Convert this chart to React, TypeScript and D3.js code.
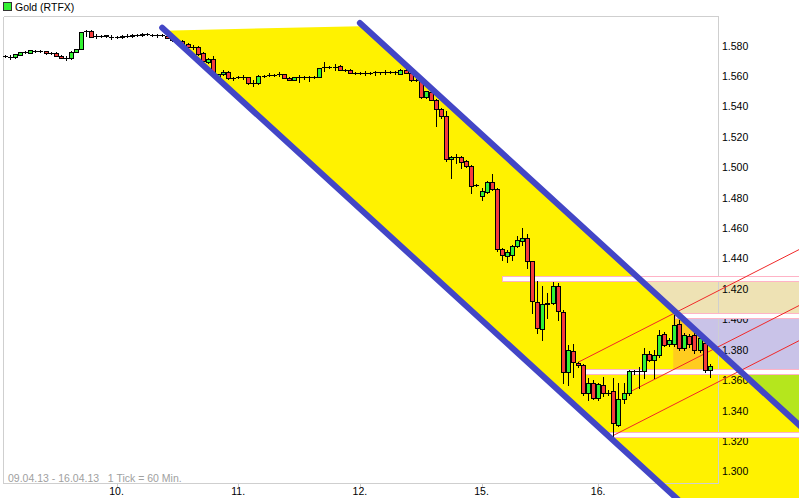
import React from "react";
import * as d3 from "d3";

// Hourly OHLC, 09.04.13 - 16.04.13
const open = [1.5734,1.5728,1.5723,1.5741,1.5759,1.5754,1.5767,1.5763,1.5763,1.5754,1.5752,1.5734,1.5719,1.5719,1.5759,1.5778,1.5899,1.5899,1.5861,1.5861,1.5870,1.5857,1.5855,1.5855,1.5866,1.5861,1.5870,1.5868,1.5874,1.5870,1.5868,1.5870,1.5866,1.5853,1.5836,1.5830,1.5813,1.5790,1.5791,1.5752,1.5690,1.5713,1.5594,1.5616,1.5627,1.5588,1.5594,1.5592,1.5592,1.5555,1.5555,1.5603,1.5609,1.5609,1.5614,1.5614,1.5588,1.5574,1.5592,1.5592,1.5592,1.5592,1.5594,1.5657,1.5660,1.5657,1.5669,1.5640,1.5642,1.5621,1.5621,1.5622,1.5622,1.5624,1.5624,1.5627,1.5624,1.5624,1.5616,1.5640,1.5620,1.5572,1.5572,1.5463,1.5496,1.5445,1.5384,1.5340,1.5055,1.5066,1.5068,1.5044,1.5011,1.4884,1.4809,1.4838,1.4904,1.4858,1.4463,1.4415,1.4426,1.4480,1.4518,1.4536,1.4382,1.4112,1.3937,1.4104,1.4108,1.4222,1.4049,1.3655,1.3795,1.3716,1.3703,1.3517,1.3582,1.3484,1.3571,1.3520,1.3532,1.3308,1.3477,1.3520,1.3659,1.3659,1.3659,1.3773,1.3735,1.3768,1.3906,1.3841,1.3841,1.3972,1.3814,1.3893,1.3900,1.3801,1.3847,1.3670];
const high = [1.5741,1.5738,1.5747,1.5757,1.5764,1.5774,1.5774,1.5770,1.5767,1.5761,1.5757,1.5738,1.5734,1.5764,1.5780,1.5892,1.5905,1.5902,1.5879,1.5869,1.5872,1.5872,1.5862,1.5869,1.5877,1.5876,1.5879,1.5882,1.5882,1.5879,1.5876,1.5879,1.5869,1.5859,1.5839,1.5836,1.5820,1.5806,1.5800,1.5757,1.5718,1.5731,1.5616,1.5642,1.5636,1.5596,1.5603,1.5609,1.5596,1.5576,1.5606,1.5609,1.5619,1.5616,1.5627,1.5616,1.5593,1.5596,1.5609,1.5600,1.5603,1.5600,1.5655,1.5690,1.5668,1.5680,1.5675,1.5649,1.5645,1.5629,1.5626,1.5632,1.5629,1.5636,1.5629,1.5639,1.5632,1.5636,1.5649,1.5645,1.5626,1.5580,1.5576,1.5503,1.5504,1.5448,1.5392,1.5368,1.5073,1.5088,1.5073,1.5050,1.5018,1.4889,1.4864,1.4909,1.4958,1.4863,1.4469,1.4459,1.4488,1.4551,1.4601,1.4564,1.4386,1.4250,1.4217,1.4174,1.4244,1.4240,1.4064,1.3834,1.3841,1.3722,1.3706,1.3617,1.3604,1.3581,1.3620,1.3538,1.3615,1.3582,1.3584,1.3670,1.3666,1.3689,1.3810,1.3795,1.3801,1.3933,1.3920,1.3880,1.4031,1.3998,1.3913,1.3906,1.3913,1.3893,1.3867,1.3709];
const low = [1.5728,1.5715,1.5721,1.5738,1.5751,1.5751,1.5761,1.5757,1.5747,1.5747,1.5731,1.5718,1.5708,1.5715,1.5757,1.5777,1.5861,1.5855,1.5851,1.5856,1.5859,1.5846,1.5849,1.5853,1.5857,1.5859,1.5862,1.5866,1.5869,1.5862,1.5859,1.5862,1.5849,1.5833,1.5823,1.5810,1.5787,1.5780,1.5741,1.5695,1.5685,1.5609,1.5590,1.5609,1.5583,1.5576,1.5586,1.5583,1.5550,1.5532,1.5550,1.5596,1.5599,1.5603,1.5598,1.5585,1.5573,1.5572,1.5563,1.5583,1.5570,1.5586,1.5592,1.5636,1.5652,1.5642,1.5638,1.5632,1.5618,1.5613,1.5613,1.5609,1.5616,1.5609,1.5616,1.5616,1.5619,1.5616,1.5613,1.5619,1.5570,1.5567,1.5458,1.5458,1.5441,1.5269,1.5327,1.5039,1.4932,1.5029,1.4996,1.5001,1.4832,1.4876,1.4783,1.4833,1.4853,1.4448,1.4393,1.4380,1.4393,1.4475,1.4492,1.4340,1.4044,1.3913,1.3862,1.4012,1.4104,1.3998,1.3584,1.3571,1.3624,1.3689,1.3505,1.3472,1.3479,1.3472,1.3494,1.3505,1.3231,1.3297,1.3453,1.3505,1.3643,1.3551,1.3617,1.3729,1.3617,1.3755,1.3828,1.3828,1.3828,1.3801,1.3801,1.3821,1.3782,1.3788,1.3657,1.3624];
const close = [1.5734,1.5724,1.5745,1.5756,1.5759,1.5772,1.5767,1.5763,1.5749,1.5754,1.5732,1.5719,1.5719,1.5761,1.5778,1.5890,1.5899,1.5857,1.5861,1.5861,1.5861,1.5857,1.5855,1.5866,1.5866,1.5872,1.5870,1.5879,1.5874,1.5870,1.5868,1.5870,1.5853,1.5836,1.5826,1.5813,1.5790,1.5790,1.5745,1.5697,1.5713,1.5614,1.5614,1.5627,1.5588,1.5588,1.5594,1.5592,1.5555,1.5555,1.5603,1.5603,1.5609,1.5609,1.5614,1.5588,1.5576,1.5594,1.5592,1.5592,1.5592,1.5592,1.5653,1.5657,1.5660,1.5657,1.5640,1.5640,1.5621,1.5621,1.5621,1.5622,1.5622,1.5624,1.5624,1.5627,1.5624,1.5624,1.5642,1.5622,1.5572,1.5572,1.5463,1.5500,1.5445,1.5384,1.5340,1.5055,1.5068,1.5066,1.5033,1.5006,1.4880,1.4884,1.4842,1.4904,1.4858,1.4463,1.4426,1.4441,1.4485,1.4524,1.4536,1.4382,1.4119,1.3944,1.4102,1.4110,1.4222,1.4058,1.3655,1.3798,1.3720,1.3703,1.3517,1.3582,1.3484,1.3576,1.3517,1.3520,1.3319,1.3477,1.3520,1.3659,1.3659,1.3659,1.3773,1.3735,1.3768,1.3900,1.3834,1.3867,1.3966,1.3814,1.3900,1.3841,1.3801,1.3880,1.3670,1.3696];

const dayLabels = ["10.", "11.", "12.", "15.", "16."];
const dayIndex = [22, 46, 70, 94, 117];
const priceTicks = [1.30, 1.32, 1.34, 1.36, 1.38, 1.40, 1.42, 1.44, 1.46, 1.48, 1.50, 1.52, 1.54, 1.56, 1.58];

// horizontal support/resistance levels
const levels = [1.4268, 1.4027, 1.3660, 1.3244];
const levelStart = [98, 132.1, 113.8, 118.9];

// zones between levels
const zoneTop = [1.4268, 1.4027, 1.3660];
const zoneBottom = [1.4027, 1.3660, 1.3244];
const zoneStart = [98, 131.8, 119];
const zoneColors = ["#EEE2B4", "#C9C3E8", "#B5E61D"];

// falling channel (index, price)
const channelUpper: [number, number][] = [[70, 1.5949], [160, 1.3204]];
const channelLower: [number, number][] = [[31, 1.5918], [159.5, 1.2]];
const channelTopEdge: [number, number][] = [[31, 1.5899], [70, 1.5928]];

// rising thin trend lines
const trendLines: [number, number][][] = [
  [[113, 1.3718], [160, 1.4517]],
  [[122.9, 1.3518], [160, 1.4149]],
  [[119.9, 1.3236], [160, 1.3918]],
];

const highlightX = [131.8, 138.3];
const highlightP = [1.4027, 1.366];

const W = 799, H = 498;
const FONT = "'Liberation Sans', Arial, sans-serif";

export default function App() {
  const x = d3.scaleLinear().domain([0, 139]).range([5, 709.7]);
  const y = d3.scaleLinear().domain([1.30, 1.58]).range([471.6, 45.7]);
  const line = d3.line<[number, number]>().x(d => x(d[0])).y(d => y(d[1]));

  const channelPoly: [number, number][] = [
    channelTopEdge[0], channelTopEdge[1], channelUpper[0], channelUpper[1],
    [160, 1.2], channelLower[1], channelLower[0],
  ];
  const polyPath = line(channelPoly) + "Z";

  const candles = open.map((o, i) => {
    const c = close[i];
    const cx = Math.round(x(i));
    const yh = Math.round(y(high[i]));
    const yl = Math.round(y(low[i]));
    const yt = Math.round(y(Math.max(o, c)));
    const yb = Math.round(y(Math.min(o, c)));
    const doji = yt === yb;
    const fill = c > o ? "#33F233" : "#F53C3C";
    return (
      <g key={i}>
        <line x1={cx + 0.5} x2={cx + 0.5} y1={yh} y2={yl + 1} stroke="#000" strokeWidth={1} />
        {doji ? (
          <line x1={cx - 2} x2={cx + 3} y1={yt + 0.5} y2={yt + 0.5} stroke="#000" strokeWidth={1} />
        ) : (
          <rect x={cx - 1.5} y={yt + 0.5} width={4} height={Math.max(1, yb - yt)} fill={fill} stroke="#000" strokeWidth={1} />
        )}
      </g>
    );
  });

  return (
    <svg width={W} height={H} style={{ position: "absolute", left: 0, top: 0, background: "#fff" }} fontFamily={FONT}>
      <defs>
        <clipPath id="chan">
          <path d={polyPath} />
        </clipPath>
      </defs>
      {/* zones */}
      {zoneTop.map((t, i) => (
        <rect key={"z" + i} x={x(zoneStart[i])} y={y(t)} width={W - x(zoneStart[i])} height={y(zoneBottom[i]) - y(t)} fill={zoneColors[i]} />
      ))}
      {/* channel fill */}
      <path d={polyPath} fill="#FFF200" />
      <rect clipPath="url(#chan)" x={x(highlightX[0])} y={y(highlightP[0])} width={x(highlightX[1]) - x(highlightX[0])} height={y(highlightP[1]) - y(highlightP[0])} fill="#FFCC1F" />
      {/* plot border */}
      <g shapeRendering="crispEdges" stroke="#CFCFCF" fill="none">
        <line x1={3.5} x2={718.5} y1={16.5} y2={16.5} />
        <line x1={3.5} x2={3.5} y1={16.5} y2={483.5} />
        <line x1={718.5} x2={718.5} y1={16.5} y2={483.5} />
        <line x1={3.5} x2={718.5} y1={483.5} y2={483.5} />
        {dayIndex.map((d, i) => (
          <line key={i} x1={Math.round(x(d)) + 0.5} x2={Math.round(x(d)) + 0.5} y1={483.5} y2={486.5} />
        ))}
      </g>
      {/* price labels */}
      {priceTicks.map((p, i) => (
        <text key={"p" + i} x={722} y={y(p) + 3.8} fontSize={10.5} fill="#000">{p.toFixed(3)}</text>
      ))}
      {/* levels */}
      {levels.map((l, i) => (
        <rect key={"l" + i} x={Math.round(x(levelStart[i])) + 0.5} y={Math.round(y(l) - 2.5) + 0.5} width={W} height={5} fill="#fff" stroke="#FFB3C6" strokeWidth={1} shapeRendering="crispEdges" />
      ))}
      {/* thin red trend lines */}
      {trendLines.map((t, i) => (
        <path key={"t" + i} d={line(t) || ""} stroke="#F02828" strokeWidth={1} fill="none" />
      ))}
      {/* candles */}
      <g shapeRendering="crispEdges">{candles}</g>
      {/* channel lines */}
      <path d={line(channelUpper) || ""} stroke="#4346C6" strokeWidth={6} strokeLinecap="round" fill="none" />
      <path d={line(channelLower) || ""} stroke="#4346C6" strokeWidth={6} strokeLinecap="round" fill="none" />
      {/* legend */}
      <rect x={3.5} y={2.5} width={8} height={8} fill="#33F233" stroke="#333" strokeWidth={1} shapeRendering="crispEdges" />
      <text x={15} y={10.5} fontSize={10.5} fill="#000">Gold (RTFX)</text>
      {/* footer */}
      <text x={8} y={481.5} fontSize={10.5} fill="#A0A0A0" style={{ whiteSpace: "pre" }}>{"09.04.13 - 16.04.13   1 Tick = 60 Min."}</text>
      {dayLabels.map((d, i) => (
        <text key={"d" + i} x={x(dayIndex[i])} y={494.5} fontSize={10.5} textAnchor="middle" fill="#000">{d}</text>
      ))}
    </svg>
  );
}
